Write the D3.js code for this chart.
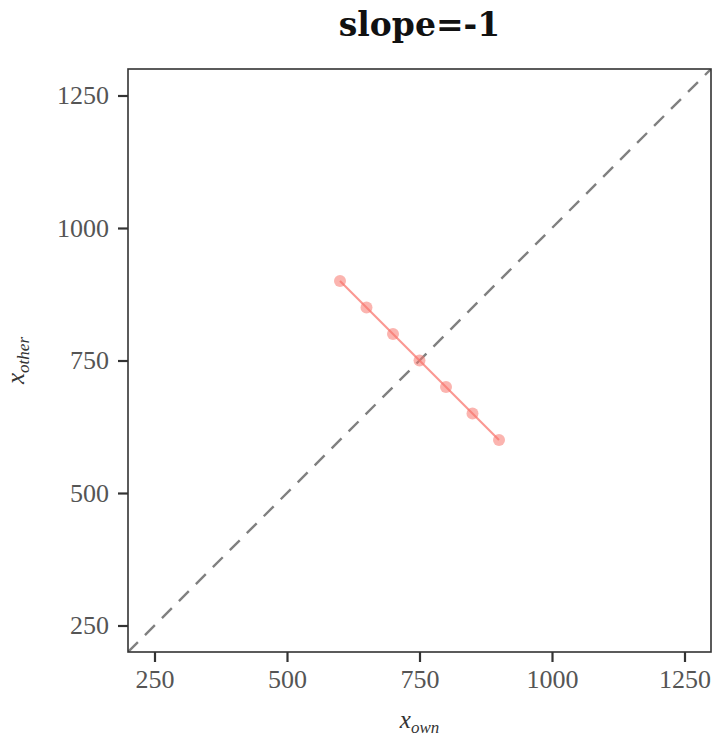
<!DOCTYPE html>
<meta charset="utf-8">
<head>
    <title>slope=-1</title>
    <script src="https://d3js.org/d3.v7.min.js"></script>
    <style>
        body { margin: 0; background: #fff; }
        text { font-family: "Liberation Serif", "DejaVu Serif", serif; }
        .tick text { font-size: 26px; fill: #555; }
        .tick line { stroke: #333; stroke-width: 2.2; }
        .domain { display: none; }
    </style>
</head>
<body>
    <svg width="713" height="737"></svg>
    <script>
        // data
        var xOwn = [600, 650, 700, 750, 800, 850, 900];
        var xOther = [900, 850, 800, 750, 700, 650, 600];
        var tickValues = [250, 500, 750, 1000, 1250];
        var domainRange = [200, 1300];

        var svg = d3.select("svg"),
            pLeft = 128, pRight = 711, pTop = 69, pBottom = 652;

        var x = d3.scaleLinear().domain(domainRange).range([pLeft, pRight]);
        var y = d3.scaleLinear().domain(domainRange).range([pBottom, pTop]);

        // title
        svg.append("text")
            .attr("x", (pLeft + pRight) / 2)
            .attr("y", 36)
            .attr("text-anchor", "middle")
            .style("font-family", "'DejaVu Serif', serif")
            .style("font-size", "33px")
            .style("font-weight", "bold")
            .style("fill", "#111")
            .text("slope=-1");

        // axes
        svg.append("g")
            .attr("transform", "translate(0," + pBottom + ")")
            .call(d3.axisBottom(x).tickValues(tickValues).tickSize(10).tickPadding(8).tickFormat(d3.format("d")));

        svg.append("g")
            .attr("transform", "translate(" + pLeft + ",0)")
            .call(d3.axisLeft(y).tickValues(tickValues).tickSize(10).tickPadding(9).tickFormat(d3.format("d")));

        // clip for the diagonal
        svg.append("clipPath").attr("id", "clip")
            .append("rect").attr("x", pLeft).attr("y", pTop)
            .attr("width", pRight - pLeft).attr("height", pBottom - pTop);

        svg.append("line")
            .attr("clip-path", "url(#clip)")
            .attr("x1", x(domainRange[0])).attr("y1", y(domainRange[0]))
            .attr("x2", x(domainRange[1])).attr("y2", y(domainRange[1]))
            .attr("stroke", "#808080")
            .attr("stroke-width", 2.4)
            .attr("stroke-dasharray", "14,10");

        var pts = xOwn.map(function (d, i) { return [d, xOther[i]]; });

        svg.append("path")
            .datum(pts)
            .attr("fill", "none")
            .attr("stroke", "#F8766D")
            .attr("stroke-opacity", 0.75)
            .attr("stroke-width", 2.2)
            .attr("d", d3.line().x(function (d) { return x(d[0]); }).y(function (d) { return y(d[1]); }));

        svg.selectAll(".pt")
            .data(pts)
            .enter().append("circle")
            .attr("class", "pt")
            .attr("cx", function (d) { return x(d[0]); })
            .attr("cy", function (d) { return y(d[1]); })
            .attr("r", 6)
            .attr("fill", "#F8766D")
            .attr("fill-opacity", 0.55);

        // panel border
        svg.append("rect")
            .attr("x", pLeft).attr("y", pTop)
            .attr("width", pRight - pLeft).attr("height", pBottom - pTop)
            .attr("fill", "none")
            .attr("stroke", "#333")
            .attr("stroke-width", 1.6);

        // axis labels
        var xl = svg.append("text")
            .attr("x", (pLeft + pRight) / 2)
            .attr("y", 728)
            .attr("text-anchor", "middle")
            .style("fill", "#333");
        xl.append("tspan").style("font-style", "italic").style("font-size", "25px").text("x");
        xl.append("tspan").style("font-style", "italic").style("font-size", "17px").attr("dy", 5).text("own");

        var yl = svg.append("text")
            .attr("transform", "translate(24," + (pTop + pBottom) / 2 + ") rotate(-90)")
            .attr("text-anchor", "middle")
            .style("fill", "#333");
        yl.append("tspan").style("font-style", "italic").style("font-size", "25px").text("x");
        yl.append("tspan").style("font-style", "italic").style("font-size", "17px").attr("dy", 5).text("other");
    </script>
</body>
</html>
